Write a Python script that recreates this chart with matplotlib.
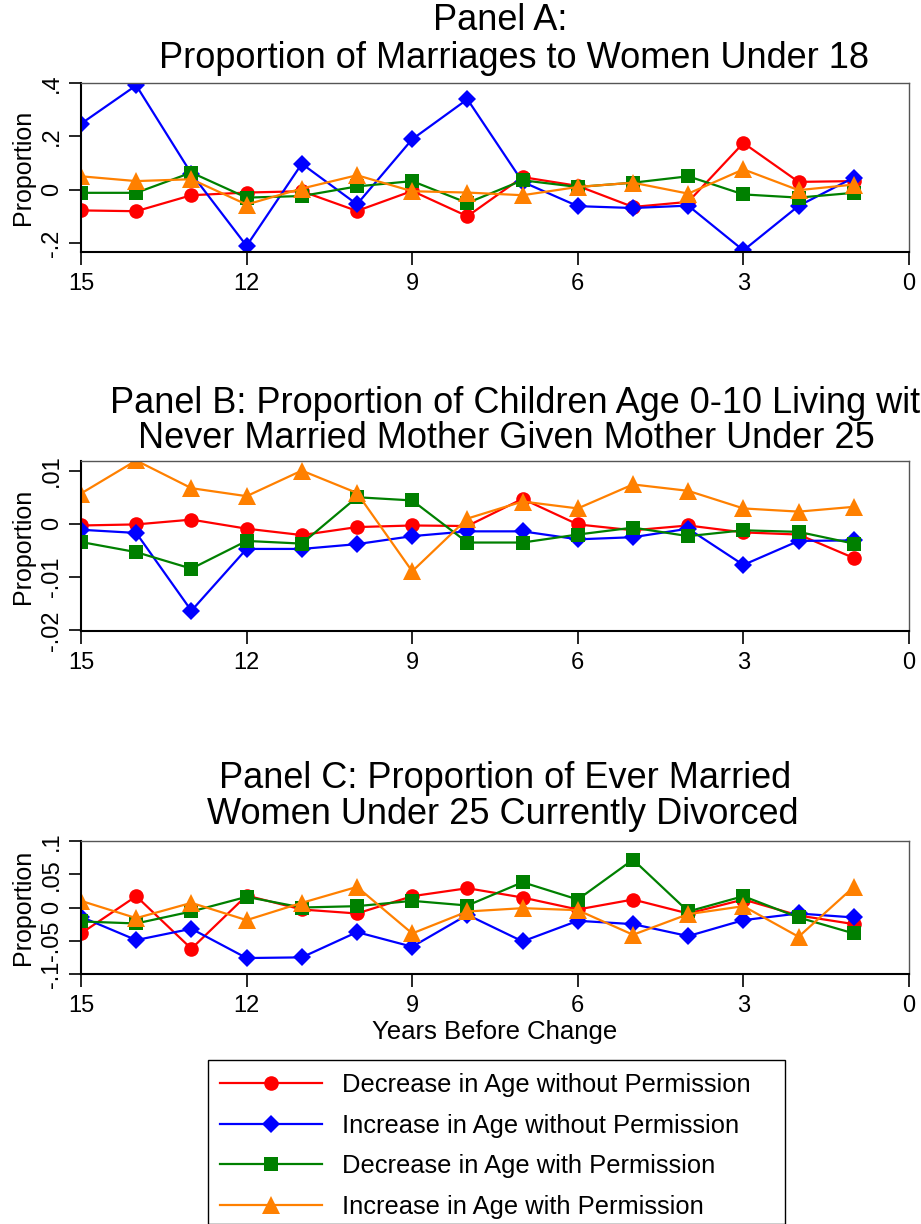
import numpy as np
import matplotlib.pyplot as plt
from matplotlib.patches import Rectangle

plt.rcParams['font.family'] = ['Liberation Sans', 'DejaVu Sans']

years = [15, 14, 13, 12, 11, 10, 9, 8, 7, 6, 5, 4, 3, 2, 1]

series_names = ['Decrease in Age without Permission',
                'Increase in Age without Permission',
                'Decrease in Age with Permission',
                'Increase in Age with Permission']

# Panel A: proportion of marriages to women under 18
a_dec_noperm = [-0.078, -0.081, -0.021, -0.011, -0.006, -0.080, -0.005, -0.100,
                0.047, 0.014, -0.065, -0.046, 0.175, 0.029, 0.032]
a_inc_noperm = [0.247, 0.391, 0.060, -0.211, 0.097, -0.055, 0.189, 0.339,
                0.029, -0.062, -0.069, -0.060, -0.228, -0.061, 0.045]
a_dec_perm = [-0.012, -0.012, 0.064, -0.030, -0.024, 0.012, 0.032, -0.050,
              0.035, 0.010, 0.026, 0.050, -0.018, -0.030, -0.012]
a_inc_perm = [0.050, 0.032, 0.039, -0.056, 0.004, 0.054, -0.006, -0.011,
              -0.021, 0.010, 0.026, -0.015, 0.076, -0.002, 0.019]

# Panel B: children 0-10 living with never married mother
b_dec_noperm = [-0.0003, -0.0001, 0.0008, -0.0009, -0.0021, -0.0006, -0.0003, -0.0004,
                0.0047, -0.0001, -0.0012, -0.0003, -0.0016, -0.0020, -0.0064]
b_inc_noperm = [-0.0011, -0.0017, -0.0163, -0.0047, -0.0047, -0.0038, -0.0023, -0.0014,
                -0.0014, -0.0029, -0.0025, -0.0009, -0.0077, -0.0032, -0.0031]
b_dec_perm = [-0.0034, -0.0053, -0.0084, -0.0032, -0.0037, 0.0050, 0.0044, -0.0035,
              -0.0035, -0.0020, -0.0007, -0.0023, -0.0012, -0.0015, -0.0037]
b_inc_perm = [0.0057, 0.0119, 0.0067, 0.0052, 0.0100, 0.0058, -0.0089, 0.0010,
              0.0042, 0.0029, 0.0074, 0.0062, 0.0029, 0.0023, 0.0032]

# Panel C: ever married women under 25 currently divorced
c_dec_noperm = [-0.039, 0.017, -0.062, 0.018, -0.003, -0.009, 0.017, 0.029,
                0.015, -0.003, 0.012, -0.009, 0.012, -0.012, -0.025]
c_inc_noperm = [-0.014, -0.049, -0.032, -0.076, -0.075, -0.037, -0.059, -0.011,
                -0.051, -0.020, -0.025, -0.043, -0.019, -0.009, -0.015]
c_dec_perm = [-0.021, -0.024, -0.006, 0.016, 0.000, 0.002, 0.010, 0.003,
              0.038, 0.012, 0.072, -0.006, 0.017, -0.015, -0.039]
c_inc_perm = [0.010, -0.016, 0.007, -0.019, 0.007, 0.031, -0.039, -0.006,
              -0.001, -0.004, -0.041, -0.010, 0.002, -0.044, 0.031]

colors = ['#FF0000', '#0000FF', '#008000', '#FF8000']
markers = ['o', 'D', 's', '^']
msizes = [10.5, 9.5, 10, 12.5]

W, H = 921, 1224
fig = plt.figure(figsize=(W / 100, H / 100), dpi=100)


def px_axes(left, top, right, bottom):
    return fig.add_axes([left / W, 1 - bottom / H, (right - left) / W, (bottom - top) / H])


def draw_panel(ax, data, yticks, ylabels, ylim):
    for vals, c, m, ms in zip(data, colors, markers, msizes):
        ax.plot(years, vals, color=c, marker=m, markersize=ms, linewidth=1.6,
                markeredgewidth=0)
    ax.set_xlim(15, 0)
    ax.set_ylim(*ylim)
    ax.set_xticks([15, 12, 9, 6, 3, 0])
    ax.set_xticklabels(['15', '12', '9', '6', '3', '0'], fontsize=17)
    ax.set_yticks(yticks)
    ax.set_yticklabels(ylabels, fontsize=17, rotation=90, va='center')
    ax.tick_params(axis='both', direction='out', length=9, width=1.2, color='black')
    ax.tick_params(axis='x', pad=6)
    ax.tick_params(axis='y', pad=4)
    ax.set_ylabel('Proportion', fontsize=18, labelpad=4)
    for s in ['left', 'bottom']:
        ax.spines[s].set_linewidth(1.5)
        ax.spines[s].set_color('black')
    for s in ['top', 'right']:
        ax.spines[s].set_linewidth(1.0)
        ax.spines[s].set_color('#555555')


axA = px_axes(81, 83, 909, 252)
draw_panel(axA, [a_dec_noperm, a_inc_noperm, a_dec_perm, a_inc_perm],
           [-0.2, 0, 0.2, 0.4], ['-.2', '0', '.2', '.4'], (-0.234, 0.4))

axB = px_axes(81, 461, 909, 631)
draw_panel(axB, [b_dec_noperm, b_inc_noperm, b_dec_perm, b_inc_perm],
           [-0.02, -0.01, 0, 0.01], ['-.02', '-.01', '0', '.01'], (-0.0201, 0.0118))

axC = px_axes(81, 841, 909, 974)
draw_panel(axC, [c_dec_noperm, c_inc_noperm, c_dec_perm, c_inc_perm],
           [-0.1, -0.05, 0, 0.05, 0.1], ['-.1', '-.05', '0', '.05', '.1'], (-0.1, 0.1))
axC.set_xlabel('Years Before Change', fontsize=18.5, labelpad=2)

title_kw = dict(fontsize=26, ha='center', va='center')
fig.text(500 / W, 1 - 21 / H, 'Panel A:', **title_kw)
fig.text(514 / W, 1 - 58 / H, 'Proportion of Marriages to Women Under 18', **title_kw)
fig.text(110 / W, 1 - 404 / H, 'Panel B: Proportion of Children Age 0-10 Living with',
         fontsize=26, ha='left', va='center')
fig.text(506 / W, 1 - 438 / H, 'Never Married Mother Given Mother Under 25', **title_kw)
fig.text(505 / W, 1 - 778 / H, 'Panel C: Proportion of Ever Married', **title_kw)
fig.text(503 / W, 1 - 814 / H, 'Women Under 25 Currently Divorced', **title_kw)

# legend: frame drawn separately so it can be as wide as the original box
fig.patches.append(Rectangle((208 / W, 0), (785 - 208) / W, 1 - 1060 / H,
                             transform=fig.transFigure, fill=False,
                             edgecolor='black', linewidth=1.0))
handles = axA.get_lines()
leg = fig.legend(handles, series_names, loc='upper left',
                 bbox_to_anchor=(212 / W, 1 - 1065 / H), fontsize=18.4,
                 handlelength=4, handletextpad=0.8, labelspacing=0.66,
                 borderpad=0.3, borderaxespad=0, frameon=False)

fig.savefig('out.png', dpi=100)
